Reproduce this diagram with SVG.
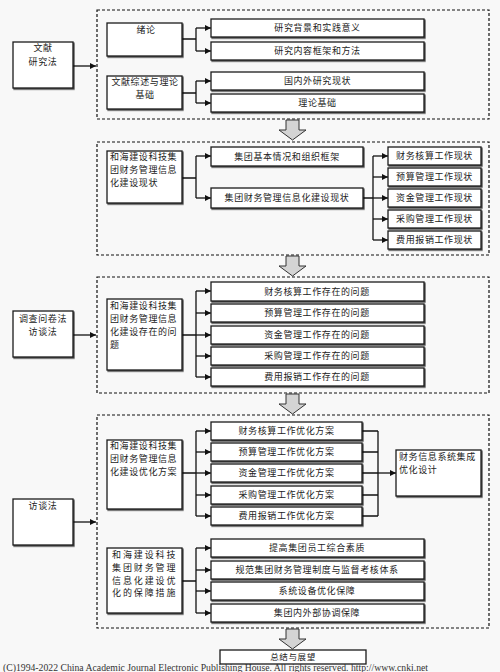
<svg xmlns="http://www.w3.org/2000/svg" width="500" height="672" viewBox="0 0 500 672">
<defs>
<style>
.bx{fill:#fff;stroke:#1a1a1a;stroke-width:1.3}
.dash{fill:none;stroke:#111;stroke-width:1.2;stroke-dasharray:3 2}
.ln{fill:none;stroke:#111;stroke-width:1.3}
.ar{fill:none;stroke:#111;stroke-width:1.3;marker-end:url(#ah)}
.blk{fill:#d4d4d4;stroke:#333;stroke-width:1}
.t{font-family:"Noto Sans CJK SC","Noto Sans",sans-serif;font-size:9px;fill:#222;letter-spacing:0.6px}
.c{text-anchor:middle}
.ft{font-family:"Liberation Serif",serif;font-size:9.5px;fill:#333}
</style>
<marker id="ah" markerWidth="6" markerHeight="6" refX="6" refY="3" orient="auto" markerUnits="userSpaceOnUse">
<path d="M0,0 L6,3 L0,6 z" fill="#111"/>
</marker>
<filter id="sh" x="-5%" y="-5%" width="112%" height="130%">
<feDropShadow dx="1" dy="1.2" stdDeviation="0.3" flood-color="#000" flood-opacity="0.7"/>
</filter>
</defs>
<rect x="0" y="0" width="500" height="672" fill="#f8f8f8"/>

<!-- dashed frames -->
<g id="frames">
<rect class="dash" x="97" y="10" width="392" height="109"/>
<rect class="dash" x="97" y="142" width="392" height="113"/>
<rect class="dash" x="97" y="277" width="392" height="116"/>
<rect class="dash" x="97" y="415" width="392" height="213"/>
</g>

<!-- block arrows -->
<g id="flow-arrows">
<polygon class="blk" points="286,120 299,120 299,130 306,130 292.5,140 279,130 286,130"/>
<polygon class="blk" points="286,256 299,256 299,266 306,266 292.5,276 279,266 286,266"/>
<polygon class="blk" points="286,394 299,394 299,404 306,404 292.5,414 279,404 286,404"/>
<polygon class="blk" points="286,629 299,629 299,639 306,639 292.5,649 279,639 286,639"/>
</g>

<g id="connectors">
<path class="ar" d="M73,66 H96"/>
<path class="ln" d="M182,39 H196 M196,28 V51"/>
<path class="ar" d="M196,28 H211"/><path class="ar" d="M196,51 H211"/>
<path class="ln" d="M182,93 H196 M196,81 V103"/>
<path class="ar" d="M196,81 H211"/><path class="ar" d="M196,103 H211"/>

<path class="ln" d="M182,178 H196 M196,156 V198"/>
<path class="ar" d="M196,156 H211"/><path class="ar" d="M196,198 H211"/>
<path class="ln" d="M363,198 H373 M373,156 V240"/>
<path class="ar" d="M373,156 H388"/><path class="ar" d="M373,177 H388"/><path class="ar" d="M373,198 H388"/><path class="ar" d="M373,219 H388"/><path class="ar" d="M373,240 H388"/>

<path class="ar" d="M73,335 H96"/>
<path class="ln" d="M182,335 H196 M196,291 V377"/>
<path class="ar" d="M196,291 H211"/><path class="ar" d="M196,313 H211"/><path class="ar" d="M196,335 H211"/><path class="ar" d="M196,356 H211"/><path class="ar" d="M196,377 H211"/>

<path class="ar" d="M73,522 H96"/>
<path class="ln" d="M182,473 H196 M196,431 V516"/>
<path class="ar" d="M196,431 H211"/><path class="ar" d="M196,452 H211"/><path class="ar" d="M196,473 H211"/><path class="ar" d="M196,495 H211"/><path class="ar" d="M196,516 H211"/>
<path class="ln" d="M362,431 H378 M362,452 H378 M362,473 H378 M362,495 H378 M362,516 H378 M378,431 V516"/>
<path class="ar" d="M378,473 H396"/>

<path class="ln" d="M182,581 H196 M196,548 V613"/>
<path class="ar" d="M196,548 H211"/><path class="ar" d="M196,570 H211"/><path class="ar" d="M196,591 H211"/><path class="ar" d="M196,613 H211"/>
</g>

<!-- left method boxes -->
<g id="m1"><rect class="bx" filter="url(#sh)" x="13" y="42" width="60" height="46"/>
<text class="t c" x="43" y="51">文献</text><text class="t c" x="43" y="65">研究法</text></g>
<g id="m2"><rect class="bx" filter="url(#sh)" x="13" y="311" width="60" height="46"/>
<text class="t c" x="43" y="322">调查问卷法</text><text class="t c" x="43" y="335">访谈法</text></g>
<g id="m3"><rect class="bx" filter="url(#sh)" x="13" y="499" width="60" height="46"/>
<text class="t c" x="43" y="509">访谈法</text></g>

<!-- section 1 -->
<g id="s1a"><rect class="bx" filter="url(#sh)" x="107" y="23" width="75" height="33"/>
<text class="t c" x="146" y="33">绪论</text></g>
<g id="s1b"><rect class="bx" filter="url(#sh)" x="107" y="76" width="75" height="33"/>
<text class="t c" x="145" y="84.5">文献综述与理论</text><text class="t c" x="145" y="98">基础</text></g>
<g id="s1c"><rect class="bx" filter="url(#sh)" x="211" y="19" width="213" height="18"/><text class="t c" x="317.5" y="31">研究背景和实践意义</text></g>
<g id="s1d"><rect class="bx" filter="url(#sh)" x="211" y="42" width="213" height="18"/><text class="t c" x="317.5" y="54">研究内容框架和方法</text></g>
<g id="s1e"><rect class="bx" filter="url(#sh)" x="211" y="72" width="213" height="18"/><text class="t c" x="317.5" y="84">国内外研究现状</text></g>
<g id="s1f"><rect class="bx" filter="url(#sh)" x="211" y="94" width="213" height="18"/><text class="t c" x="317.5" y="106">理论基础</text></g>

<!-- section 2 -->
<g id="s2a"><rect class="bx" filter="url(#sh)" x="107" y="151" width="75" height="52"/>
<text class="t" x="110" y="160">和海建设科技集</text><text class="t" x="110" y="173">团财务管理信息</text><text class="t" x="110" y="186">化建设现状</text></g>
<g id="s2b"><rect class="bx" filter="url(#sh)" x="211" y="147" width="152" height="19"/><text class="t c" x="287" y="159.5">集团基本情况和组织框架</text></g>
<g id="s2c"><rect class="bx" filter="url(#sh)" x="211" y="188" width="152" height="20"/><text class="t c" x="287" y="200.5">集团财务管理信息化建设现状</text></g>
<g id="s2d"><rect class="bx" filter="url(#sh)" x="388" y="147" width="93" height="18"/><text class="t c" x="434.5" y="159">财务核算工作现状</text></g>
<g id="s2e"><rect class="bx" filter="url(#sh)" x="388" y="168" width="93" height="18"/><text class="t c" x="434.5" y="180">预算管理工作现状</text></g>
<g id="s2f"><rect class="bx" filter="url(#sh)" x="388" y="189" width="93" height="18"/><text class="t c" x="434.5" y="201">资金管理工作现状</text></g>
<g id="s2g"><rect class="bx" filter="url(#sh)" x="388" y="210" width="93" height="18"/><text class="t c" x="434.5" y="222">采购管理工作现状</text></g>
<g id="s2h"><rect class="bx" filter="url(#sh)" x="388" y="231" width="93" height="18"/><text class="t c" x="434.5" y="243">费用报销工作现状</text></g>

<!-- section 3 -->
<g id="s3a"><rect class="bx" filter="url(#sh)" x="107" y="299" width="75" height="71"/>
<text class="t" x="110" y="309">和海建设科技集</text><text class="t" x="110" y="322">团财务管理信息</text><text class="t" x="110" y="335">化建设存在的问</text><text class="t" x="110" y="348">题</text></g>
<g id="s3b"><rect class="bx" filter="url(#sh)" x="211" y="282" width="213" height="19"/><text class="t c" x="317" y="294.5">财务核算工作存在的问题</text></g>
<g id="s3c"><rect class="bx" filter="url(#sh)" x="211" y="304" width="213" height="18"/><text class="t c" x="317" y="316">预算管理工作存在的问题</text></g>
<g id="s3d"><rect class="bx" filter="url(#sh)" x="211" y="326" width="213" height="18"/><text class="t c" x="317" y="338">资金管理工作存在的问题</text></g>
<g id="s3e"><rect class="bx" filter="url(#sh)" x="211" y="347" width="213" height="18"/><text class="t c" x="317" y="359">采购管理工作存在的问题</text></g>
<g id="s3f"><rect class="bx" filter="url(#sh)" x="211" y="368" width="213" height="18"/><text class="t c" x="317" y="380">费用报销工作存在的问题</text></g>

<!-- section 4 -->
<g id="s4a"><rect class="bx" filter="url(#sh)" x="107" y="440" width="75" height="69"/>
<text class="t" x="110" y="449">和海建设科技集</text><text class="t" x="110" y="462">团财务管理信息</text><text class="t" x="110" y="475">化建设优化方案</text></g>
<g id="s4b"><rect class="bx" filter="url(#sh)" x="211" y="422" width="151" height="18"/><text class="t c" x="286.5" y="434">财务核算工作优化方案</text></g>
<g id="s4c"><rect class="bx" filter="url(#sh)" x="211" y="443" width="151" height="18"/><text class="t c" x="286.5" y="455">预算管理工作优化方案</text></g>
<g id="s4d"><rect class="bx" filter="url(#sh)" x="211" y="464" width="151" height="18"/><text class="t c" x="286.5" y="476">资金管理工作优化方案</text></g>
<g id="s4e"><rect class="bx" filter="url(#sh)" x="211" y="486" width="151" height="18"/><text class="t c" x="286.5" y="498">采购管理工作优化方案</text></g>
<g id="s4f"><rect class="bx" filter="url(#sh)" x="211" y="507" width="151" height="18"/><text class="t c" x="286.5" y="519">费用报销工作优化方案</text></g>
<g id="s4g"><rect class="bx" filter="url(#sh)" x="396" y="450" width="85" height="46"/>
<text class="t" x="399" y="460">财务信息系统集成</text><text class="t" x="399" y="473">优化设计</text></g>

<g id="s5a"><rect class="bx" filter="url(#sh)" x="107" y="548" width="75" height="65"/>
<text class="t" x="112" y="558" textLength="64" lengthAdjust="spacing">和海建设科技</text>
<text class="t" x="112" y="571" textLength="64" lengthAdjust="spacing">集团财务管理</text>
<text class="t" x="112" y="584" textLength="64" lengthAdjust="spacing">信息化建设优</text>
<text class="t" x="112" y="596" textLength="64" lengthAdjust="spacing">化的保障措施</text></g>
<g id="s5b"><rect class="bx" filter="url(#sh)" x="211" y="539" width="213" height="18"/><text class="t c" x="317" y="551">提高集团员工综合素质</text></g>
<g id="s5c"><rect class="bx" filter="url(#sh)" x="211" y="561" width="213" height="18"/><text class="t c" x="317" y="573">规范集团财务管理制度与监督考核体系</text></g>
<g id="s5d"><rect class="bx" filter="url(#sh)" x="211" y="582" width="213" height="18"/><text class="t c" x="317" y="594">系统设备优化保障</text></g>
<g id="s5e"><rect class="bx" filter="url(#sh)" x="211" y="604" width="213" height="18"/><text class="t c" x="317" y="616">集团内外部协调保障</text></g>

<g id="end"><rect class="bx" x="220" y="650" width="146" height="14"/>
<text class="t c" x="293" y="659.5" style="font-size:8.5px">总结与展望</text></g>

<text class="ft" x="3" y="670.5" textLength="425" lengthAdjust="spacingAndGlyphs">(C)1994-2022 China Academic Journal Electronic Publishing House. All rights reserved.    http://www.cnki.net</text>
</svg>
